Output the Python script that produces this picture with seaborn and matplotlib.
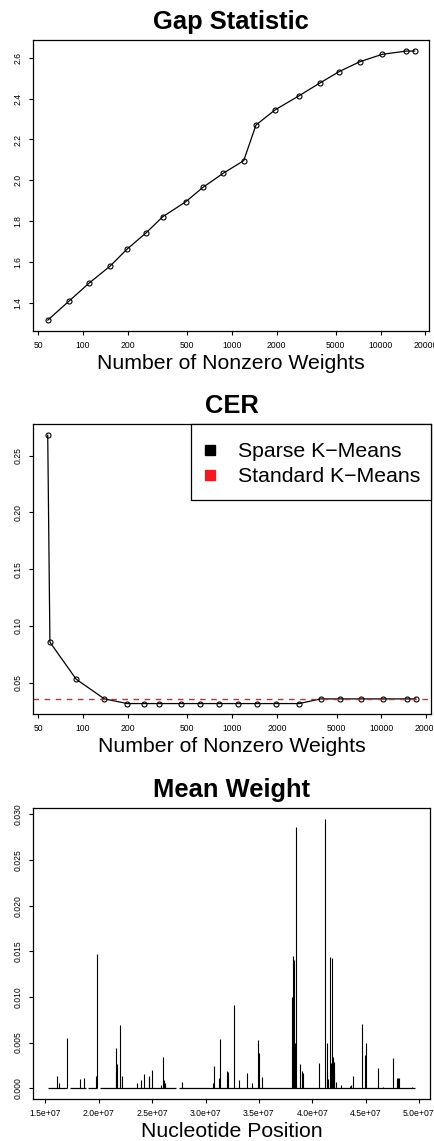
import matplotlib
matplotlib.use("Agg")
import numpy as np
import pandas as pd
import matplotlib.pyplot as plt
from matplotlib.lines import Line2D
from matplotlib.patches import Rectangle
from matplotlib.ticker import NullLocator
import seaborn as sns

# ---- data -------------------------------------------------------------
gap_nonzero = [58, 81, 110, 152, 198, 266, 344, 490, 640, 875,
               1203, 1455, 1960, 2810, 3905, 5260, 7270, 10260, 14860, 16980]
gap_value = [1.313, 1.408, 1.495, 1.578, 1.662, 1.742, 1.821, 1.894, 1.965, 2.034,
             2.096, 2.271, 2.346, 2.413, 2.477, 2.533, 2.582, 2.618, 2.634, 2.634]

cer_nonzero = [58, 60, 90, 139, 198, 256, 323, 456, 608, 810,
               1091, 1455, 1971, 2810, 3905, 5290, 7270, 10310, 14860, 16980]
cer_sparse = [0.268, 0.0858, 0.0532, 0.0359, 0.0318, 0.0318, 0.0318, 0.0318, 0.0318, 0.0318,
              0.0318, 0.0318, 0.0318, 0.0318, 0.0359, 0.0359, 0.0359, 0.0359, 0.0359, 0.0359]
cer_standard = 0.0359

nonzero_ticks = [50, 100, 200, 500, 1000, 2000, 5000, 10000, 20000]
gap_ticks = [1.4, 1.6, 1.8, 2.0, 2.2, 2.4, 2.6]
cer_ticks = [0.05, 0.10, 0.15, 0.20, 0.25]

# mean feature weight along the chromosome (positions in Mb)
weight_pos_mb = [16.09, 16.27, 16.99, 18.20, 18.60, 19.75, 19.81, 21.58, 21.65, 21.68,
                 21.99, 22.20, 23.60, 23.94, 24.25, 24.66, 24.75, 25.03, 25.87, 26.06,
                 26.15, 26.24, 27.80, 30.68, 30.81, 31.27, 31.37, 32.02, 32.14, 32.67,
                 33.11, 33.85, 34.35, 34.91, 34.97, 35.28, 38.08, 38.17, 38.23, 38.32,
                 38.36, 38.45, 38.85, 39.01, 39.13, 40.68, 41.24, 41.34, 41.43, 41.52,
                 41.68, 41.77, 41.86, 41.93, 42.02, 42.08, 42.20, 42.67, 43.51, 43.66,
                 43.82, 44.69, 44.94, 45.06, 46.18, 46.61, 47.61, 47.92, 48.01, 48.17,
                 49.32]
weight_value = [0.00131, 0.00055, 0.00551, 0.00102, 0.00110, 0.00131, 0.01471, 0.00442, 0.00179, 0.00266,
                0.00693, 0.00135, 0.00055, 0.00088, 0.00161, 0.00139, 0.00110, 0.00201, 0.00036, 0.00343,
                0.00095, 0.00062, 0.00073, 0.00062, 0.00241, 0.00117, 0.00536, 0.00186, 0.00179, 0.00912,
                0.00091, 0.00164, 0.00058, 0.00526, 0.00387, 0.00120, 0.01004, 0.00482, 0.01449, 0.01405,
                0.00496, 0.02861, 0.00270, 0.00193, 0.00168, 0.00281, 0.02949, 0.00496, 0.00182, 0.00099,
                0.01434, 0.00274, 0.01427, 0.00343, 0.00285, 0.00164, 0.00073, 0.00036, 0.00022, 0.00036,
                0.00135, 0.00708, 0.00365, 0.00493, 0.00219, 0.00018, 0.00336, 0.00110, 0.00110, 0.00117,
                0.00018]
# covered stretches of the chromosome (start, end in Mb)
covered_start_mb = [15.21, 17.26, 19.03, 20.12, 27.50]
covered_end_mb = [17.02, 18.82, 19.81, 27.27, 49.66]

weight_ticks = [1.5e7, 2.0e7, 2.5e7, 3.0e7, 3.5e7, 4.0e7, 4.5e7, 5.0e7]
weight_tick_labels = ["1.5e+07", "2.0e+07", "2.5e+07", "3.0e+07",
                      "3.5e+07", "4.0e+07", "4.5e+07", "5.0e+07"]
weight_yticks = [0.000, 0.005, 0.010, 0.015, 0.020, 0.025, 0.030]

# ---- style ------------------------------------------------------------
sns.set_theme(style="white")
plt.rcParams["font.family"] = ["Liberation Sans", "DejaVu Sans"]
plt.rcParams["axes.edgecolor"] = "black"
plt.rcParams["axes.linewidth"] = 0.9
plt.rcParams["text.color"] = "black"
plt.rcParams["axes.labelcolor"] = "black"
plt.rcParams["axes.titlecolor"] = "black"
plt.rcParams["xtick.color"] = "black"
plt.rcParams["ytick.color"] = "black"

RED = "#f01a20"
TITLE_FS = 18.4
LABEL_FS = 15.3
TICK_FS = 6.2


def padded(lo, hi, frac=0.04):
    span = hi - lo
    return lo - frac * span, hi + frac * span


def style_axes(ax, title, xlabel):
    for s in ax.spines.values():
        s.set_visible(True)
        s.set_color("black")
        s.set_linewidth(0.9)
    ax.tick_params(axis="both", which="major", direction="out", length=2.6,
                   width=0.8, color="black", labelsize=TICK_FS, labelcolor="black",
                   bottom=True, left=True, top=False, right=False)
    ax.tick_params(axis="x", pad=4.5)
    ax.tick_params(axis="y", pad=5.0, labelrotation=90)
    for lab in ax.get_yticklabels():
        lab.set_va("center")
    ax.set_title(title, fontsize=TITLE_FS, fontweight="bold", pad=8, color="black")
    ax.set_xlabel(xlabel, fontsize=LABEL_FS, color="black")
    ax.xaxis.label.set_va("baseline")
    ax.xaxis.set_label_coords(0.5, -0.13)
    ax.set_ylabel("")
    ax.grid(False)


fig = plt.figure(figsize=(4.35, 11.41), dpi=100)
W, H = 435.0, 1141.0


def panel(left, right, top, bottom):
    return fig.add_axes([left / W, 1 - bottom / H, (right - left) / W, (bottom - top) / H])


# ---- Gap statistic ----------------------------------------------------
ax1 = panel(33, 429.5, 40.3, 331)
gap_df = pd.DataFrame({"nonzero": gap_nonzero, "gap": gap_value})
sns.lineplot(data=gap_df, x="nonzero", y="gap", ax=ax1, color="black", lw=0.9,
             marker="o", markersize=3.6, markerfacecolor="none",
             markeredgecolor="black", markeredgewidth=0.8)
ax1.set_xscale("log")
lx = np.log10(gap_df["nonzero"])
lo, hi = padded(lx.min(), lx.max())
ax1.set_xlim(10 ** lo, 10 ** hi)
ax1.set_ylim(*padded(min(gap_value), max(gap_value)))
ax1.set_xticks(nonzero_ticks)
ax1.set_xticklabels([str(t) for t in nonzero_ticks])
ax1.xaxis.set_minor_locator(NullLocator())
ax1.set_yticks(gap_ticks)
ax1.set_yticklabels([f"{t:.1f}" for t in gap_ticks])
style_axes(ax1, "Gap Statistic", "Number of Nonzero Weights")

# ---- CER --------------------------------------------------------------
ax2 = panel(33, 430.5, 424.3, 714.3)
cer_df = pd.DataFrame({"nonzero": cer_nonzero, "cer": cer_sparse})
sns.lineplot(data=cer_df, x="nonzero", y="cer", ax=ax2, color="black", lw=0.9,
             marker="o", markersize=3.6, markerfacecolor="none",
             markeredgecolor="black", markeredgewidth=0.8)
ax2.axhline(cer_standard, color=RED, lw=1.0, dashes=(4.0, 4.0))
ax2.set_xscale("log")
lx = np.log10(cer_df["nonzero"])
lo, hi = padded(lx.min(), lx.max())
ax2.set_xlim(10 ** lo, 10 ** hi)
ax2.set_ylim(*padded(min(cer_sparse), max(cer_sparse)))
ax2.set_xticks(nonzero_ticks)
ax2.set_xticklabels([str(t) for t in nonzero_ticks])
ax2.xaxis.set_minor_locator(NullLocator())
ax2.set_yticks(cer_ticks)
ax2.set_yticklabels([f"{t:.2f}" for t in cer_ticks])
style_axes(ax2, "CER", "Number of Nonzero Weights")

# legend: square-box key in a plain black frame at the top-right corner
legend_box = Rectangle((0.3967, 0.738), 1.0 - 0.3967, 0.262, transform=ax2.transAxes,
                       facecolor="white", edgecolor="black", lw=0.9, zorder=4,
                       clip_on=False)
ax2.add_patch(legend_box)
handles = [Line2D([], [], ls="none", marker="s", markersize=7.4, color="black"),
           Line2D([], [], ls="none", marker="s", markersize=7.4, color=RED)]
leg = ax2.legend(handles, ["Sparse K\u2212Means", "Standard K\u2212Means"],
                 loc="upper left", bbox_to_anchor=(0.4327, 0.9378),
                 fontsize=LABEL_FS, frameon=False, borderaxespad=0, borderpad=0,
                 handlelength=0.5, handletextpad=1.07, labelspacing=0.283)
leg.set_zorder(5)
for t in leg.get_texts():
    t.set_color("black")

# ---- Mean weight ------------------------------------------------------
ax3 = panel(33, 430, 808.3, 1099)
pos = np.array(weight_pos_mb) * 1e6
seg_start = np.array(covered_start_mb) * 1e6
seg_end = np.array(covered_end_mb) * 1e6
ax3.hlines(np.zeros(len(seg_start)), seg_start, seg_end, color="black", lw=0.9)
ax3.vlines(pos, np.zeros(len(pos)), weight_value, color="black", lw=0.8)
ax3.set_xlim(*padded(seg_start.min(), seg_end.max()))
ax3.set_ylim(*padded(0, max(weight_value)))
ax3.set_xticks(weight_ticks)
ax3.set_xticklabels(weight_tick_labels)
ax3.set_yticks(weight_yticks)
ax3.set_yticklabels([f"{t:.3f}" for t in weight_yticks])
style_axes(ax3, "Mean Weight", "Nucleotide Position")

fig.savefig("out.png", dpi=100)
